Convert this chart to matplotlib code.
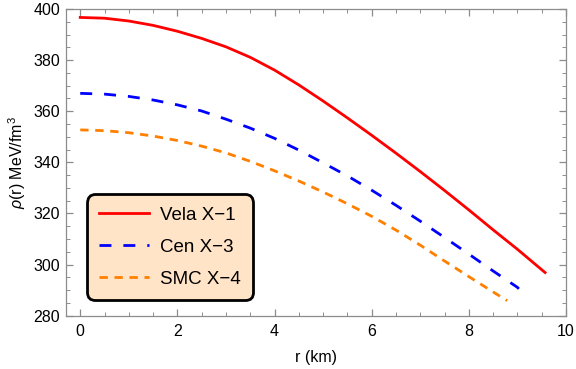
import matplotlib
matplotlib.use("Agg")
import matplotlib.pyplot as plt
from matplotlib.ticker import MultipleLocator

plt.rcParams['font.family'] = ['Liberation Sans', 'DejaVu Sans']
plt.rcParams['mathtext.fontset'] = 'custom'
plt.rcParams['mathtext.rm'] = 'Liberation Sans'
plt.rcParams['mathtext.it'] = 'Liberation Sans:italic'

# values
r_vela = [0, 0.5, 1.0, 1.5, 2.0, 2.5, 3.0, 3.5, 4.0, 4.5, 5.0,
          5.5, 6.0, 6.5, 7.0, 7.5, 8.0, 8.5, 9.0, 9.5, 9.57]
rho_vela = [396.7, 396.4, 395.3, 393.6, 391.3, 388.5, 385.2, 381.1, 376.1, 370.3, 364.0,
            357.4, 350.6, 343.6, 336.4, 329.0, 321.4, 313.6, 306.0, 298.0, 296.9]

r_cen = [0, 0.5, 1.0, 1.5, 2.0, 2.5, 3.0, 3.5, 4.0, 4.5, 5.0,
         5.5, 6.0, 6.5, 7.0, 7.5, 8.0, 8.5, 9.0, 9.03]
rho_cen = [367.0, 366.7, 365.8, 364.4, 362.5, 360.1, 356.9, 353.4, 349.4, 344.8, 339.8,
           334.7, 329.1, 323.2, 317.0, 310.6, 304.1, 297.5, 291.1, 290.5]

r_smc = [0, 0.5, 1.0, 1.5, 2.0, 2.5, 3.0, 3.5, 4.0, 4.5, 5.0,
         5.5, 6.0, 6.5, 7.0, 7.5, 8.0, 8.5, 8.79]
rho_smc = [352.7, 352.4, 351.6, 350.3, 348.55, 346.35, 343.7, 340.4, 336.7, 332.7, 328.4,
           323.8, 318.9, 313.5, 307.6, 301.4, 295.3, 289.3, 285.9]

labels = ['Vela X\u22121', 'Cen X\u22123', 'SMC X\u22124']

fig = plt.figure(figsize=(5.76, 3.69), dpi=100)
ax = fig.add_axes([0.114, 0.1444, 0.8686, 0.8312])

ax.plot(r_vela, rho_vela, color='#ff0000', lw=2.0, label=labels[0])
ax.plot(r_cen, rho_cen, color='#0000ff', lw=2.0, dashes=(4.3, 4.3), label=labels[1])
ax.plot(r_smc, rho_smc, color='#ff8000', lw=2.0, dashes=(3.0, 2.4), label=labels[2])

ax.set_xlim(-0.3, 10)
ax.set_ylim(280, 400)
ax.xaxis.set_major_locator(MultipleLocator(2))
ax.xaxis.set_minor_locator(MultipleLocator(0.5))
ax.yaxis.set_major_locator(MultipleLocator(20))
ax.yaxis.set_minor_locator(MultipleLocator(5))

frame = '#8c8c8c'
for s in ax.spines.values():
    s.set_color(frame)
    s.set_linewidth(0.9)
ax.tick_params(which='both', direction='in', top=True, right=True,
               color=frame, labelsize=11.5, labelcolor='black')
ax.tick_params(which='major', length=5, width=0.9)
ax.tick_params(which='minor', length=3, width=0.7)
ax.tick_params(axis='x', pad=6)
ax.tick_params(axis='y', pad=4)

ax.set_xlabel('r (km)', fontsize=11.5, labelpad=8)
ax.set_ylabel(r'$\it{\rho}$(r) MeV/fm$^3$', fontsize=11.5, labelpad=4)

leg = ax.legend(loc='lower left', bbox_to_anchor=(0.042, 0.051), borderaxespad=0,
                fontsize=13.5, handlelength=2.7, handletextpad=0.57,
                labelspacing=0.8, borderpad=0.65, fancybox=True, framealpha=1)
fr = leg.get_frame()
fr.set_facecolor('#ffe4c8')
fr.set_edgecolor('black')
fr.set_linewidth(2.0)
fr.set_boxstyle('round', pad=0, rounding_size=0.45)

fig.savefig('out.png', dpi=100)
